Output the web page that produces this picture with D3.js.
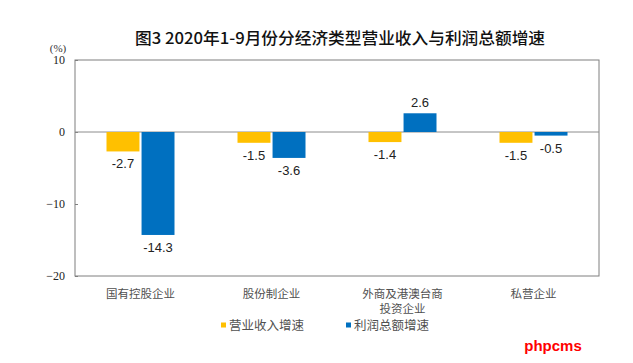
<!DOCTYPE html>
<html><head><meta charset="utf-8">
<script src="https://cdn.jsdelivr.net/npm/d3@7"></script>
<style>body{margin:0;background:#fff}svg{display:block}</style>
</head><body><svg id="c" width="633" height="363"></svg>
<script>
const categories = [["国有控股企业"],["股份制企业"],["外商及港澳台商","投资企业"],["私营企业"]];
const seriesNames = ["营业收入增速","利润总额增速"];
const revenue = [-2.7,-1.5,-1.4,-1.5];
const profit = [-14.3,-3.6,2.6,-0.5];
const yTicks = [10,0,-10,-20];
const colors = ["#FFC000","#0070C0"];

(function(){
const svg = d3.select("#c");
const pL=75,pR=599,pT=60,pB=276;
const y = d3.scaleLinear().domain([-20,10]).range([pB,pT]);
const x = d3.scaleBand().domain(d3.range(4)).range([pL,pR]);
const xSub = d3.scaleBand().domain([0,1]).range([0,68]).paddingInner(0.06);

svg.append("text").attr("x",340).attr("y",44).attr("text-anchor","middle")
  .attr("font-family","Noto Sans CJK SC").attr("font-size",16).attr("font-weight",500).attr("fill","#111")
  .attr("textLength",410).attr("lengthAdjust","spacingAndGlyphs")
  .text("图3 2020年1-9月份分经济类型营业收入与利润总额增速");
svg.append("text").attr("x",58).attr("y",52).attr("text-anchor","middle")
  .attr("font-family","Liberation Serif").attr("font-size",11).attr("fill","#333").text("(%)");

svg.append("rect").attr("x",pL).attr("y",pT).attr("width",pR-pL).attr("height",pB-pT)
  .attr("fill","none").attr("stroke","#7f7f7f").attr("stroke-width",1);

const ax = svg.append("g").attr("transform",`translate(${pL},0)`)
  .call(d3.axisLeft(y).tickValues(yTicks).tickSize(-3).tickPadding(10).tickFormat(d3.format("d")));
ax.select(".domain").remove();
ax.selectAll("line").attr("stroke","#7f7f7f");
ax.selectAll("text").attr("font-family","Liberation Serif").attr("font-size",12).attr("fill","#222");

svg.append("line").attr("x1",pL).attr("x2",pR).attr("y1",y(0)).attr("y2",y(0))
  .attr("stroke","#8c8c8c").attr("stroke-width",1);

const series=[revenue,profit];
series.forEach((vals,s)=>{
  const g=svg.append("g");
  g.selectAll("rect").data(vals).join("rect")
    .attr("x",(d,i)=>x(i)+x.bandwidth()/2-34+xSub(s))
    .attr("width",xSub.bandwidth())
    .attr("y",d=>y(Math.max(0,d)))
    .attr("height",d=>Math.abs(y(d)-y(0)))
    .attr("fill",colors[s]);
  g.selectAll("text").data(vals).join("text")
    .attr("x",(d,i)=>x(i)+x.bandwidth()/2-34+xSub(s)+xSub.bandwidth()/2)
    .attr("y",d=>d<0?y(d)+17:y(d)-6)
    .attr("text-anchor","middle").attr("font-family","Liberation Sans").attr("font-size",13).attr("fill","#222")
    .text(d=>d.toFixed(1));
});

categories.forEach((lines,i)=>{
  lines.forEach((t,j)=>{
    svg.append("text").attr("x",x(i)+x.bandwidth()/2).attr("y",297.5+j*15.5).attr("text-anchor","middle")
      .attr("font-family","Noto Sans CJK SC").attr("font-size",11.5).attr("fill","#505050").text(t);
  });
});

const legX=[221,346];
seriesNames.forEach((n,s)=>{
  svg.append("rect").attr("x",legX[s]).attr("y",322.5).attr("width",5).attr("height",5).attr("fill",colors[s]);
  svg.append("text").attr("x",legX[s]+8).attr("y",330).attr("font-family","Noto Sans CJK SC").attr("font-size",12.5)
    .attr("fill","#505050").text(n);
});

svg.append("text").attr("x",553).attr("y",351).attr("text-anchor","middle").attr("font-family","Liberation Sans")
  .attr("font-size",15).attr("font-weight","bold").attr("fill","#ff0000").text("phpcms");
})();
</script></body></html>
